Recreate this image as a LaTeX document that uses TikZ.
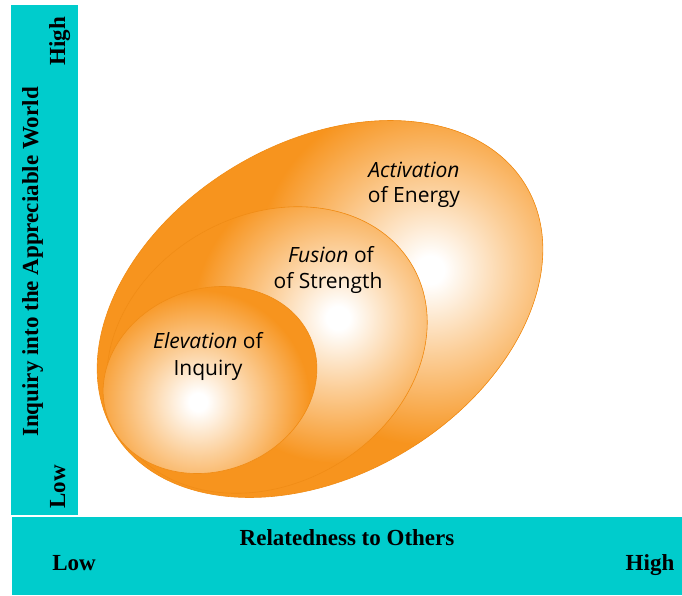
\documentclass[tikz,border=0pt]{standalone}
\usepackage{fontspec}
\setmainfont{Liberation Serif}
\newfontfamily\labelfont{Open Sans}
\usetikzlibrary{positioning}

\definecolor{barTeal}{RGB}{0,204,204}
\definecolor{orangeFill}{RGB}{247,148,30}
\definecolor{orangeEdge}{RGB}{240,140,22}
\pgfdeclareradialshading{glow}{\pgfpointorigin}{color(0bp)=(white); color(2bp)=(white); color(12bp)=(orangeFill!45!white); color(25bp)=(orangeFill); color(50bp)=(orangeFill)}

\begin{document}
\begin{tikzpicture}[x=1pt, y=-1pt,
    axisText/.style={font=\bfseries\fontsize{23}{27}\selectfont, anchor=base, inner sep=0pt},
    blobText/.style={font=\labelfont\fontsize{21}{26}\selectfont, text=black, anchor=base, inner sep=0pt},
    blobEdge/.style={draw=orangeEdge, line width=0.6pt}]
    \useasboundingbox (0,0) rectangle (682,595);
    % set up the bars
    \fill[barTeal] (11,5) rectangle (78,515);
    \fill[barTeal] (12,517) rectangle (682,595);
    % axis labels
    \node[axisText, rotate=90] (yHigh) at (65,41) {High};
    \node[axisText, rotate=90] (yTitle) at (38,262) {Inquiry into the Appreciable World};
    \node[axisText, rotate=90] (yLow) at (65,487) {Low};
    \node[axisText] (xTitle) at (347,545) {Relatedness to Others};
    \node[axisText] (xLow) at (74,570) {Low};
    \node[axisText] (xHigh) at (650,570) {High};
    % the three blobs, outermost first
    \coordinate (outerC) at (320,309);
    \coordinate (midC) at (267,350);
    \coordinate (innerC) at (210,380);
    \begin{scope}
        \clip[rotate around={31:(outerC)}] (outerC) ellipse (240 and 166);
        \fill[orangeFill] (outerC) circle (260);
        \shade[shading=glow] (430,270) circle (175);
    \end{scope}
    \draw[blobEdge, rotate around={31:(outerC)}] (outerC) ellipse (240 and 166);
    \begin{scope}
        \clip[rotate around={30:(midC)}] (midC) ellipse (168 and 134);
        \fill[orangeFill] (midC) circle (190);
        \shade[shading=glow] (338,318) circle (145);
    \end{scope}
    \draw[blobEdge, rotate around={30:(midC)}] (midC) ellipse (168 and 134);
    \begin{scope}
        \clip[rotate around={21:(innerC)}] (innerC) ellipse (109 and 91);
        \fill[orangeFill] (innerC) circle (130);
        \shade[shading=glow] (198,402) circle (112);
    \end{scope}
    \draw[blobEdge, rotate around={21:(innerC)}] (innerC) ellipse (109 and 91);
    % blob labels
    \node[blobText] (actTop) at (414,177) {\itshape Activation};
    \node[blobText] (actBot) at (414,202) {of Energy};
    \node[blobText] (fusTop) at (331,262) {{\itshape Fusion} of};
    \node[blobText] (fusBot) at (328,288) {of Strength};
    \node[blobText] (elevTop) at (208,348) {{\itshape Elevation} of};
    \node[blobText] (elevBot) at (208,375) {Inquiry};
\end{tikzpicture}
\end{document}
